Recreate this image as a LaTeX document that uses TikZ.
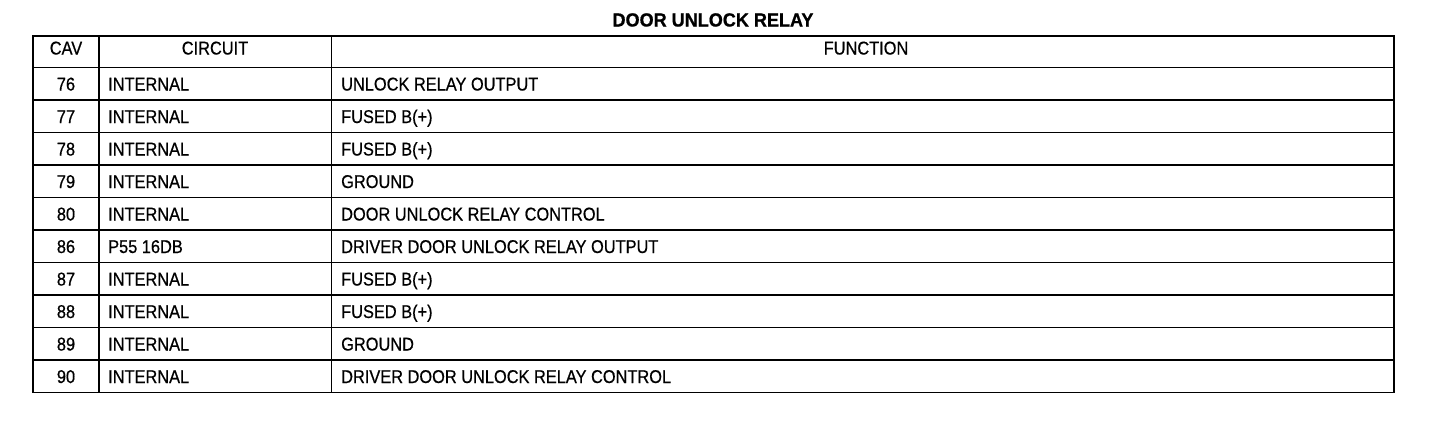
\documentclass[tikz,border=0pt]{standalone}
\usepackage{fontspec}
\setmainfont{Liberation Sans}[FakeStretch=0.885,FakeBold=0.6]
\newfontfamily\titlefont{Liberation Sans}[FakeStretch=0.95,FakeBold=0.8]
\begin{document}
\begin{tikzpicture}[x=1pt,y=-1pt,
  grid/.style={line width=1.7pt,black},
  cell/.style={inner sep=0pt,anchor=base west,font=\fontsize{18.5}{20}\selectfont},
  cavcell/.style={inner sep=0pt,anchor=base,font=\fontsize{18.5}{20}\selectfont},
  titlecell/.style={inner sep=0pt,anchor=base,font=\titlefont\fontsize{19}{22}\selectfont\bfseries}]
\useasboundingbox (0,0) rectangle (1456,424);
\node[titlecell] (title) at (713,26.5) {DOOR UNLOCK RELAY};
% grid
\draw[grid] (33,36) rectangle (1394,392.5);
\foreach \yy in {67.5,100,132.5,165,197.5,230,262.5,295,327.5,360}
  \draw[grid] (33,\yy) -- (1394,\yy);
\draw[grid] (99,36) -- (99,392.5);
\draw[grid] (331.5,36) -- (331.5,392.5);
% header
\node[cavcell] (hcav) at (66,54.5) {CAV};
\node[cavcell] (hcir) at (215,54.5) {CIRCUIT};
\node[cavcell] (hfun) at (866,54.5) {FUNCTION};
% rows
\foreach \n/\cav/\cir/\fun in {0/76/INTERNAL/UNLOCK RELAY OUTPUT,
  1/77/INTERNAL/FUSED B(+),
  2/78/INTERNAL/FUSED B(+),
  3/79/INTERNAL/GROUND,
  4/80/INTERNAL/DOOR UNLOCK RELAY CONTROL,
  5/86/P55 16DB/DRIVER DOOR UNLOCK RELAY OUTPUT,
  6/87/INTERNAL/FUSED B(+),
  7/88/INTERNAL/FUSED B(+),
  8/89/INTERNAL/GROUND,
  9/90/INTERNAL/DRIVER DOOR UNLOCK RELAY CONTROL}{
  \pgfmathsetmacro{\yc}{90.5+32.5*\n}
  \node[cavcell] (cav\cav) at (66,\yc) {\cav};
  \node[cell] (cir\cav) at (108,\yc) {\cir};
  \node[cell] (fun\cav) at (341,\yc) {\fun};
}
\end{tikzpicture}
\end{document}
